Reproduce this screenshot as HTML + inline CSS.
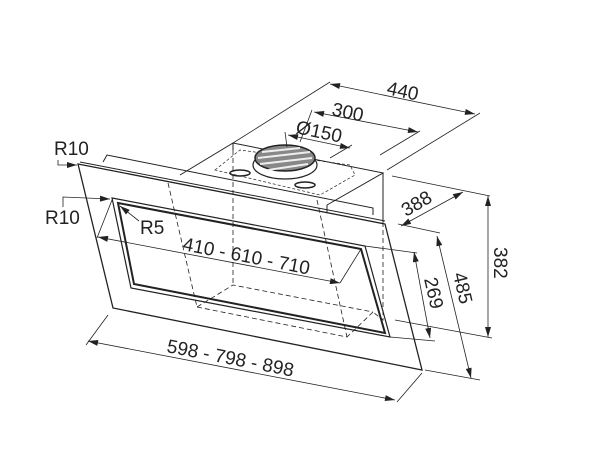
<!DOCTYPE html>
<html><head><style>
html,body{margin:0;padding:0;background:#fff;}
svg{display:block}
text{font-family:"Liberation Sans",Arial,sans-serif;font-size:19px;fill:#222}
</style></head><body>
<svg width="609" height="452" viewBox="0 0 609 452" xmlns="http://www.w3.org/2000/svg">
<defs>
<marker id="a" viewBox="0 0 10 6" refX="10" refY="3" markerWidth="11" markerHeight="6" orient="auto-start-reverse" markerUnits="userSpaceOnUse">
<path d="M0,0 L10,3 L0,6 z" fill="#222"/></marker>
</defs>
<g fill="none" stroke="#222" stroke-width="1">
<path d="M180,175 L233,143 L383,173 L327,205"/>
<path d="M233,143 L233,150"/>
<path d="M383,173 L383,222"/>
<path d="M327,205 L327,212"/>
<path d="M103,162 L107,155 L373,208 L373,215"/>
<path d="M215,170 L240,150 L350,165 L355,175 L320,195 Z" stroke-dasharray="3,2" stroke-width="0.7"/>
<ellipse cx="285" cy="165" rx="32" ry="14" stroke-width="1.2"/>
<ellipse cx="285" cy="158" rx="30" ry="13" fill="#888" stroke-width="1.5"/>
<path d="M262,152 L300,148 M258,158 L310,152 M260,164 L312,158 M268,170 L308,164" stroke="#eee" stroke-width="2"/>
<ellipse cx="240" cy="173" rx="10" ry="3" stroke-width="1.5"/>
<ellipse cx="305" cy="185" rx="10" ry="3" stroke-width="1.5"/>
<path d="M78,164 L385,224 L422,370 L113,308 Z" stroke-width="1.3"/>
<path d="M80,162 L385,221" stroke-width="1"/>
<path d="M112,198 L365,246 L390,337 L131,288 Z" stroke-width="1.2"/>
<path d="M118,203 L361,249 L385,333 L134,284 Z" stroke-width="2"/>
<g stroke-dasharray="5,3" stroke-width="0.8">
<path d="M233,150 L233,285"/>
<path d="M168,183 L197,307"/>
<path d="M197,307 L233,285 L373,312"/>
<path d="M197,307 L347,337 L373,312"/>
<path d="M317,200 L347,337"/>
<path d="M383,222 L383,320 L373,312"/>
</g>
<g stroke-width="0.8">
<path d="M233,143 L330,82"/>
<path d="M387,170 L480,113"/>
<path d="M330,84 L475,114" marker-start="url(#a)" marker-end="url(#a)"/>
<path d="M300,142 L312,110"/>
<path d="M380,155 L420,131"/>
<path d="M314,112 L418,132" marker-start="url(#a)" marker-end="url(#a)"/>
<path d="M287,147 L285,132 M330,158 L352,145"/>
<path d="M288,135 L350,148" marker-start="url(#a)" marker-end="url(#a)"/>
<path d="M392,176 L490,196"/>
<path d="M398,224 L440,233"/>
<path d="M401,226 L463,192" marker-start="url(#a)" marker-end="url(#a)"/>
<path d="M488,196 L488,337" marker-start="url(#a)" marker-end="url(#a)"/>
<path d="M395,320 L492,338"/>
<path d="M437,236 L471,378" marker-start="url(#a)" marker-end="url(#a)"/>
<path d="M425,370 L480,380"/>
<path d="M365,246 L417,253"/>
<path d="M414,252 L430,338" marker-start="url(#a)" marker-end="url(#a)"/>
<path d="M390,337 L435,341"/>
<path d="M112,200 L97,238"/>
<path d="M361,249 L340,283"/>
<path d="M98,237 L340,283" marker-start="url(#a)" marker-end="url(#a)"/>
<path d="M108,315 L86,345"/>
<path d="M422,373 L397,402"/>
<path d="M88,341 L395,400" marker-start="url(#a)" marker-end="url(#a)"/>
<path d="M58,160 L58,165 L77,165" marker-end="url(#a)"/>
<path d="M63,207 L63,197 L110,199" marker-end="url(#a)"/>
<path d="M139,221 L120,206" marker-end="url(#a)"/>
</g>
</g>
<text x="54" y="155">R10</text>
<text x="45" y="224">R10</text>
<text x="140" y="234">R5</text>
<text transform="translate(386,94) rotate(12)">440</text>
<text transform="translate(331,115) rotate(12)">300</text>
<text transform="translate(295,133) rotate(12)">Ø150</text>
<text transform="translate(406,217) rotate(-30)">388</text>
<text transform="translate(494,247) rotate(90)">382</text>
<text transform="translate(453,274) rotate(77)">485</text>
<text transform="translate(424,279) rotate(77)">269</text>
<text transform="translate(182,250) rotate(11)">410 - 610 - 710</text>
<text transform="translate(166,352) rotate(11)">598 - 798 - 898</text>
</svg>
</body></html>
